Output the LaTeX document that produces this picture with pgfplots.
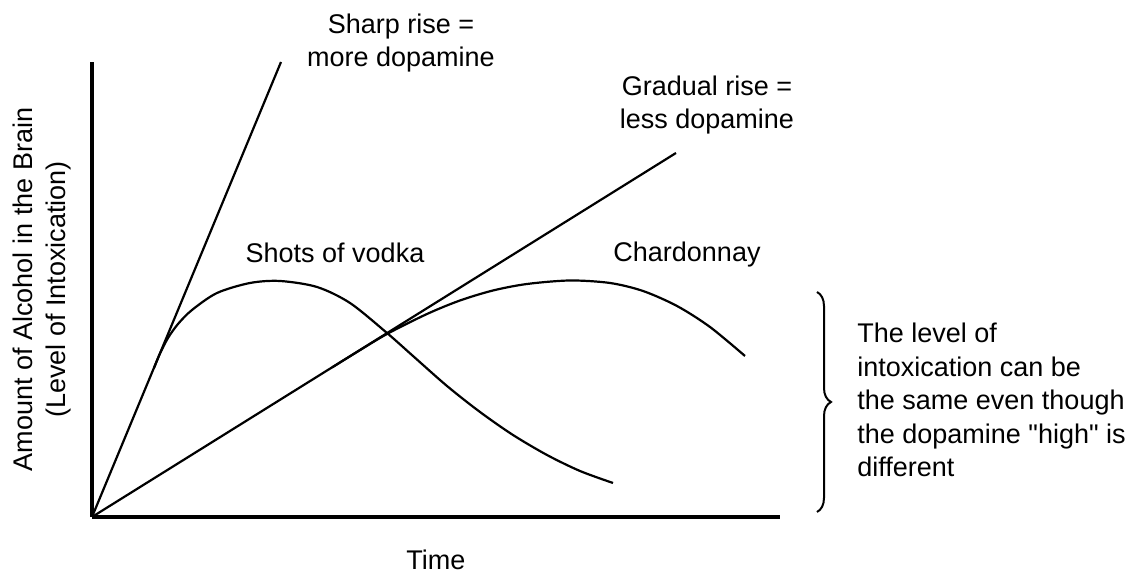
\documentclass[border=0pt]{standalone}
\usepackage{fontspec}
\setmainfont{Liberation Sans}
\newfontfamily\plainfont{Liberation Sans}
\usepackage{pgfplots}
\pgfplotsset{compat=1.18}
\usetikzlibrary{decorations.pathreplacing}
\begin{document}
\begin{tikzpicture}[font=\fontsize{13.5}{16.75}\selectfont]
\begin{axis}[
 x=0.5pt, y=0.5pt,
 xmin=0, xmax=688, ymin=0, ymax=455,
 axis lines=left,
 axis line style={-, line width=1.6pt},
 xtick=\empty, ytick=\empty,
 clip=false,
 xlabel={Time},
 ylabel={Amount of Alcohol in the Brain\\(Level of Intoxication)},
 xlabel style={at={(axis description cs:0.5,-0.1165)}, anchor=base},
 ylabel style={at={(axis description cs:-0.0727,0.5)}, anchor=center, align=center},
]
% sharp rise
\addplot[black, line width=1.1pt, no markers] coordinates {(0,0) (189,455)};
% gradual rise
\addplot[black, line width=1.1pt, no markers] coordinates {(0,0) (584,364)};
% shots of vodka
\addplot[black, line width=1.1pt, no markers, smooth] coordinates {(62,149) (68,163.5) (76,179) (86,193) (100,207) (125,224) (158,234) (188,236) (225,230) (258,214) (295,184) (321,161) (355,131) (388,105) (421,82) (455,62) (488,46) (521,34)};
% chardonnay
\addplot[black, line width=1.1pt, no markers, smooth] coordinates {(240,149.5) (265,165) (295,183) (335,203) (368,216.5) (401,226.5) (435,233) (478,236.5) (518,234) (551,226) (585,211) (618,190) (653,161)};

\node[align=center, anchor=center, inner sep=0pt] at (axis cs:309,474) {Sharp rise =\\more dopamine};
\node[align=center, anchor=center, inner sep=0pt] at (axis cs:615,412) {Gradual rise =\\less dopamine};
\node[anchor=base, inner sep=0pt] at (axis cs:243,254) {Shots of vodka};
\node[anchor=base, inner sep=0pt] at (axis cs:595,255) {Chardonnay};
\draw[decorate, decoration={brace, amplitude=7pt}, line width=1pt] (axis cs:725,225) -- (axis cs:725,5);
\node[align=left, anchor=north west, inner sep=0pt] at (axis cs:765,194) {The level of\\intoxication can be\\the same even though\\the dopamine {\plainfont"}high{\plainfont"} is\\different};
\coordinate (BL) at (axis cs:-92,-59);
\coordinate (TR) at (axis cs:1045,517);
\end{axis}
\pgfresetboundingbox
\path[use as bounding box] (BL) rectangle (TR);
\end{tikzpicture}
\end{document}
